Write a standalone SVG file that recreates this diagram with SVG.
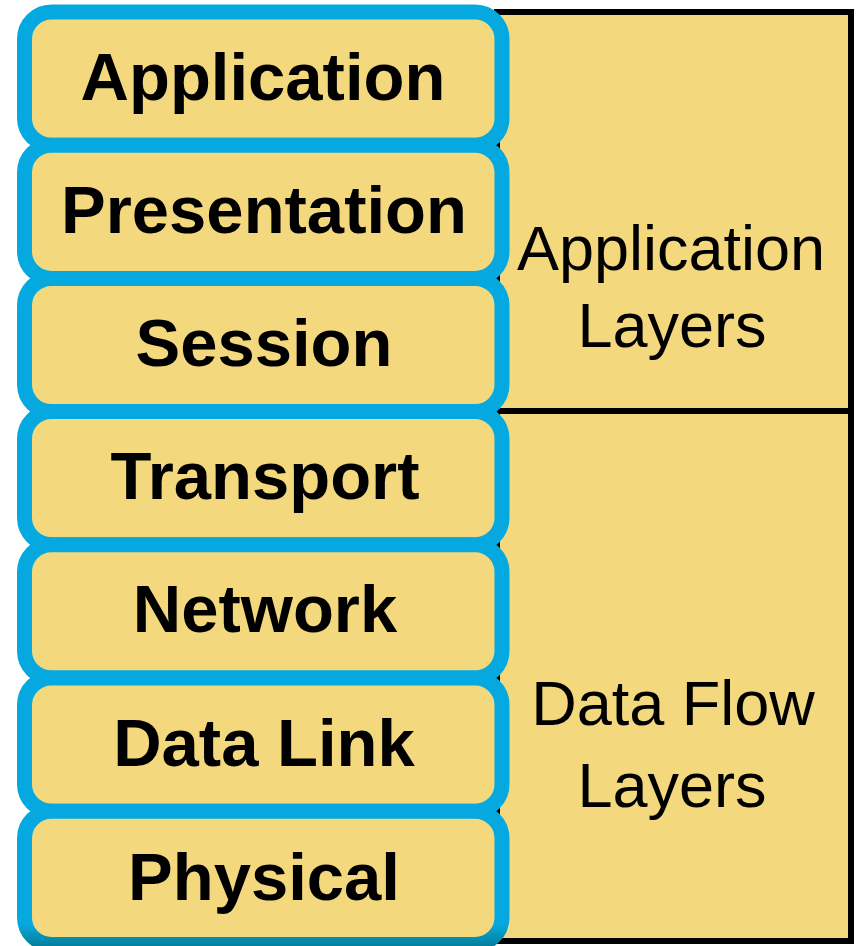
<svg xmlns="http://www.w3.org/2000/svg" width="859" height="946" viewBox="0 0 859 946">
  <style>
    .layer { fill: #F4D87E; stroke: #05A9DF; stroke-width: 15; }
    .group { fill: #F4D87E; stroke: #000000; stroke-width: 6; }
    .lbl { font-family: "Liberation Sans", Arial, sans-serif; font-weight: bold; font-size: 67px; fill: #000; text-anchor: middle; }
    .glbl { font-family: "Liberation Sans", Arial, sans-serif; font-size: 63px; fill: #000; text-anchor: middle; }
  </style>
  <defs>
    <linearGradient id="bottomShade" gradientUnits="userSpaceOnUse" x1="0" y1="925" x2="0" y2="946">
      <stop offset="0" stop-color="#05A9DF"/>
      <stop offset="0.5" stop-color="#0592B8"/>
      <stop offset="1" stop-color="#04809F"/>
    </linearGradient>
  </defs>
  <rect width="859" height="946" fill="#FFFFFF"/>

  <g id="groups">
    <g id="application-layers">
      <rect class="group" x="497" y="12" width="354" height="399"/>
      <text class="glbl" x="671" y="270">Application</text>
      <text class="glbl" x="672" y="347">Layers</text>
    </g>
    <g id="data-flow-layers">
      <rect class="group" x="497" y="411" width="354" height="530"/>
      <text class="glbl" x="673" y="725">Data Flow</text>
      <text class="glbl" x="672" y="807">Layers</text>
    </g>
  </g>

  <g id="connectors"></g>

  <g id="layers">
    <g id="application">
      <rect class="layer" x="24.5" y="12" width="477.5" height="133.2" rx="27"/>
      <text class="lbl" x="263" y="99.6">Application</text>
    </g>
    <g id="presentation">
      <rect class="layer" x="24.5" y="145.2" width="477.5" height="133.2" rx="27"/>
      <text class="lbl" x="264" y="232.8">Presentation</text>
    </g>
    <g id="session">
      <rect class="layer" x="24.5" y="278.4" width="477.5" height="133.2" rx="27"/>
      <text class="lbl" x="264" y="366">Session</text>
    </g>
    <g id="transport">
      <rect class="layer" x="24.5" y="411.6" width="477.5" height="133.2" rx="27"/>
      <text class="lbl" x="265" y="499.2">Transport</text>
    </g>
    <g id="network">
      <rect class="layer" x="24.5" y="544.8" width="477.5" height="133.2" rx="27"/>
      <text class="lbl" x="265" y="632.4">Network</text>
    </g>
    <g id="data-link">
      <rect class="layer" x="24.5" y="678" width="477.5" height="133.2" rx="27"/>
      <text class="lbl" x="264" y="765.6">Data Link</text>
    </g>
    <g id="physical">
      <rect class="layer" x="24.5" y="811.2" width="477.5" height="133.2" rx="27" style="stroke: url(#bottomShade);"/>
      <text class="lbl" x="264" y="899.5">Physical</text>
    </g>
  </g>
</svg>
